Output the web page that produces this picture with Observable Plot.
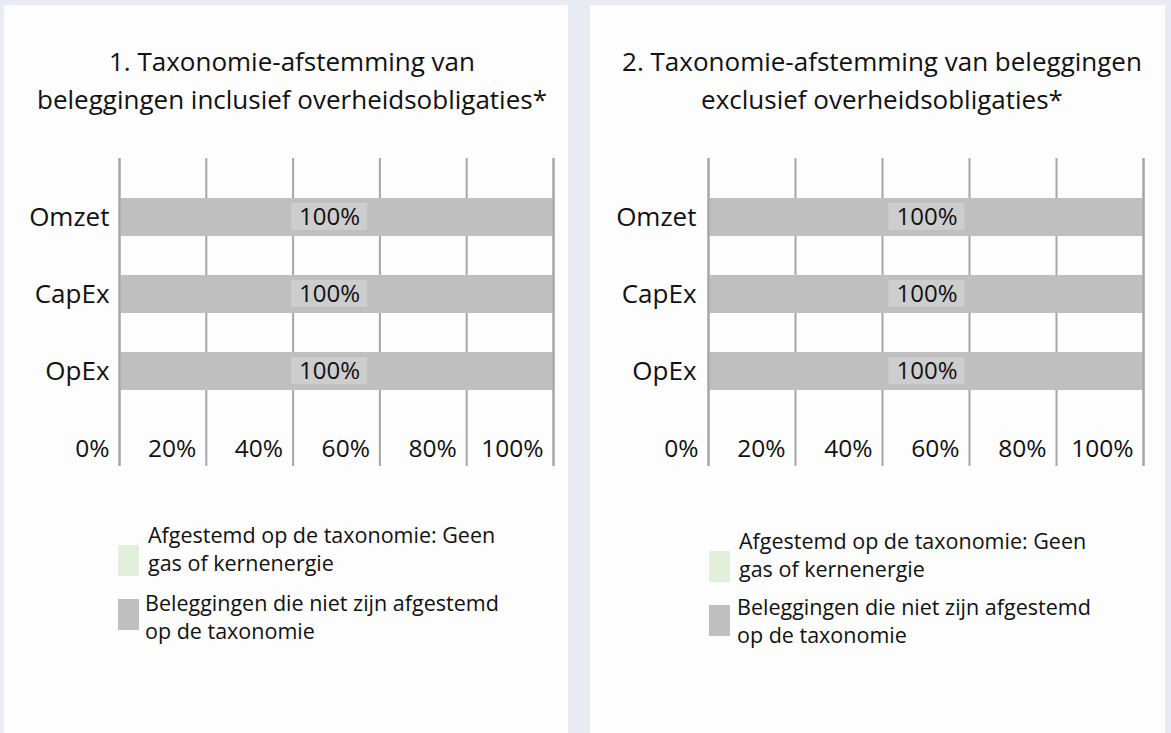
<!DOCTYPE html>
<html><head><meta charset="utf-8">
<script src="https://cdn.jsdelivr.net/npm/d3@7"></script>
<script src="https://cdn.jsdelivr.net/npm/@observablehq/plot@0.6"></script>
<style>
body{margin:0;width:1171px;height:733px;background:#e8ebf4;font-family:"Open Sans",sans-serif;color:#111;position:relative;overflow:hidden}
.panel{position:absolute;background:#fdfdfd;top:5px;height:728px}
.title{position:absolute;width:600px;text-align:center;font-size:26px;line-height:38px;white-space:nowrap}
.chart{position:absolute}
.lgtext{position:absolute;font-size:21.5px;line-height:28px;white-space:nowrap}
.sw{position:absolute;width:21px;height:31px}
</style></head><body>
<script>
// ---- data ----
const categories = ["Omzet", "CapEx", "OpEx"];
const seriesNames = ["Afgestemd op de taxonomie: Geen gas of kernenergie", "Beleggingen die niet zijn afgestemd op de taxonomie"];
const seriesColors = ["#e2efda", "#bfbfbf"];
const legendLines = [["Afgestemd op de taxonomie: Geen", "gas of kernenergie"], ["Beleggingen die niet zijn afgestemd", "op de taxonomie"]];
const chart1Aligned = [0, 0, 0];
const chart1NotAligned = [100, 100, 100];
const chart2Aligned = [0, 0, 0];
const chart2NotAligned = [100, 100, 100];
const xTicks = [0, 20, 40, 60, 80, 100];
const title1Lines = ["1. Taxonomie-afstemming van", "beleggingen inclusief overheidsobligaties*"];
const title2Lines = ["2. Taxonomie-afstemming van beleggingen", "exclusief overheidsobligaties*"];

function el(tag, cls, style, html) {
  const e = document.createElement(tag);
  if (cls) e.className = cls;
  Object.assign(e.style, style || {});
  if (html != null) e.innerHTML = html;
  document.body.appendChild(e);
  return e;
}

function makeChart(aligned, notAligned, o) {
  const rows = [];
  categories.forEach((c, i) => {
    rows.push({cat: c, series: seriesNames[0], value: aligned[i]});
    rows.push({cat: c, series: seriesNames[1], value: notAligned[i]});
  });
  const labels = categories.map((c, i) => ({cat: c, total: aligned[i] + notAligned[i], value: notAligned[i]}));
  const innerW = o.width - o.ml - o.mr;
  const half = 38 / innerW * 100;
  return Plot.plot({
    width: o.width, height: 350,
    marginLeft: o.ml, marginRight: o.mr, marginTop: 28, marginBottom: 14,
    style: {fontFamily: "Open Sans", color: "#111", background: "transparent", overflow: "visible"},
    x: {domain: [0, 100], label: null},
    y: {domain: categories, paddingInner: 0.51, paddingOuter: 0.742, align: 0.34, label: null},
    color: {domain: seriesNames, range: seriesColors},
    marks: [
      Plot.ruleX(xTicks, {stroke: "#a6a6a6", strokeWidth: 2}),
      Plot.barX(rows, Plot.stackX({y: "cat", x: "value", fill: "series", order: seriesNames})),
      Plot.ruleX([0, 100], {stroke: "#a6a6a6", strokeWidth: 2}),
      Plot.barX(labels, {y: "cat", x1: d => d.total / 2 - half, x2: d => d.total / 2 + half, fill: "#cdcdcd", insetTop: 5, insetBottom: 6, dx: o.ldx}),
      Plot.text(labels, {y: "cat", x: d => d.total / 2, text: d => d.value + "%", fontSize: 24, fill: "#111", dx: o.ldx}),
      Plot.axisX(xTicks, {label: null, tickSize: 0, tickPadding: 0, tickFormat: d => d + "%", textAnchor: "end", dx: -10, dy: -27, fontSize: 24.5, fill: "#111"}),
      Plot.axisY({label: null, tickSize: 0, tickPadding: o.yPad, fontSize: 26, fill: "#111"})
    ]
  });
}

function legend(x, y, gx, gy) {
  el("div", "sw", {left: x + "px", top: (y + 24) + "px", background: seriesColors[0]});
  el("div", "lgtext", {left: (x + 30) + "px", top: y + "px"}, legendLines[0].join("<br>"));
  el("div", "sw", {left: x + "px", top: (y + 78) + "px", background: seriesColors[1]});
  el("div", "lgtext", {left: (x + gx) + "px", top: (y + gy) + "px"}, legendLines[1].join("<br>"));
}

// panels
el("div", "panel", {left: "4px", width: "564px"});
el("div", "panel", {left: "590px", width: "575px"});

// titles
el("div", "title", {left: "-8px", top: "42px"}, title1Lines.join("<br>"));
el("div", "title", {left: "582px", top: "42px"}, title2Lines.join("<br>"));

// charts
const c1 = el("div", "chart", {left: "0px", top: "130px"});
c1.appendChild(makeChart(chart1Aligned, chart1NotAligned, {width: 570, ml: 119, mr: 17, ldx: -7, yPad: 10}));
const c2 = el("div", "chart", {left: "590px", top: "130px"});
c2.appendChild(makeChart(chart2Aligned, chart2NotAligned, {width: 572, ml: 118, mr: 19, ldx: 1, yPad: 12}));

// legends
legend(118, 521, 27, 68);
legend(709, 527, 28, 66);
</script>
</body></html>
